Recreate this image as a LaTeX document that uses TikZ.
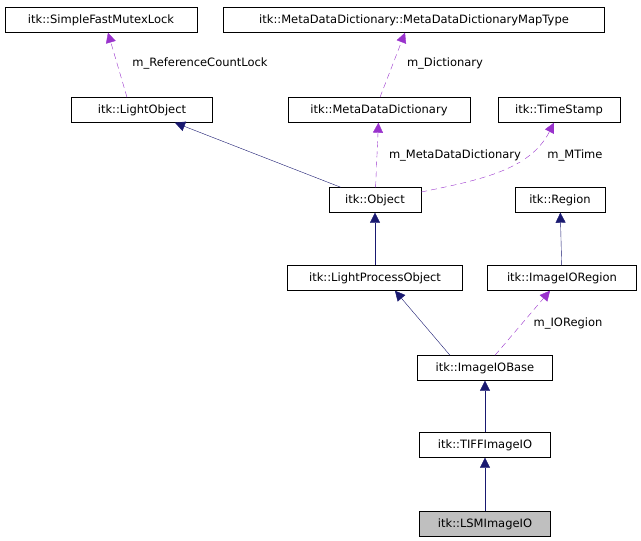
\documentclass[tikz,border=0pt]{standalone}
\usepackage{fontspec}
\setmainfont{DejaVu Sans}
\usetikzlibrary{arrows.meta,calc}
\begin{document}
\begin{tikzpicture}[x=1pt,y=-1pt,
 box/.style={draw,inner sep=0pt,minimum height=25pt,font=\fontsize{11.5}{12}\selectfont},
 inh/.style={draw={rgb,255:red,25;green,25;blue,112},-{Triangle[length=10pt,width=10pt,fill={rgb,255:red,25;green,25;blue,112}]}},
 mem/.style={draw={rgb,255:red,153;green,50;blue,204},dashed,dash pattern=on 6pt off 4pt,-{Triangle[length=10pt,width=10pt,fill={rgb,255:red,153;green,50;blue,204}]}},
 lab/.style={font=\fontsize{11.5}{12}\selectfont,fill=white,inner sep=1pt}]
\useasboundingbox (0,0) rectangle (641,541);
\node[box,minimum width=192pt] (sfm) at (101,20) {itk::SimpleFastMutexLock};
\node[box,minimum width=381pt] (mt) at (414,20) {itk::MetaDataDictionary::MetaDataDictionaryMapType};
\node[box,minimum width=141pt] (lo) at (142,110) {itk::LightObject};
\node[box,minimum width=182pt] (md) at (379,110) {itk::MetaDataDictionary};
\node[box,minimum width=122pt] (ts) at (559,110) {itk::TimeStamp};
\node[box,minimum width=92pt] (ob) at (375,200) {itk::Object};
\node[box,minimum width=90pt] (rg) at (560,200) {itk::Region};
\node[box,minimum width=175pt] (lpo) at (375,278) {itk::LightProcessObject};
\node[box,minimum width=149pt] (ior) at (562,278) {itk::ImageIORegion};
\node[box,minimum width=135pt] (iob) at (485,368) {itk::ImageIOBase};
\node[box,minimum width=131pt] (tif) at (485,445) {itk::TIFFImageIO};
\node[box,minimum width=131pt,fill={rgb,255:red,191;green,191;blue,191}] (lsm) at (485,524) {itk::LSMImageIO};
\draw[inh] ($(ob.north west)+(12,0)$) -- ($(lo.south)+(33,0)$);
\draw[inh] (lpo) -- (ob);
\draw[inh] (ior) -- (rg);
\draw[inh] ($(iob.north)+(-35,0)$) -- ($(lpo.south)+(20,0)$);
\draw[inh] (tif) -- (iob);
\draw[inh] (lsm) -- (tif);
\draw[mem] ($(lo.north)+(-15,0)$) -- ($(sfm.south)+(7,0)$);
\draw[mem] ($(md.north)+(1,0)$) -- ($(mt.south)+(-9,0)$);
\draw[mem] (ob) -- (md);
\draw[mem] ($(ob.east)+(0,-8)$) .. controls (480,180) and (530,170) .. ($(ts.south)+(-5,0)$);
\draw[mem] ($(iob.north)+(10,0)$) -- ($(ior.south)+(-12,0)$);
\node[lab] at (200,63) {m\_ReferenceCountLock};
\node[lab] at (445,63) {m\_Dictionary};
\node[lab] at (455,155) {m\_MetaDataDictionary};
\node[lab] at (575,155) {m\_MTime};
\node[lab] at (568,323) {m\_IORegion};
\end{tikzpicture}
\end{document}
